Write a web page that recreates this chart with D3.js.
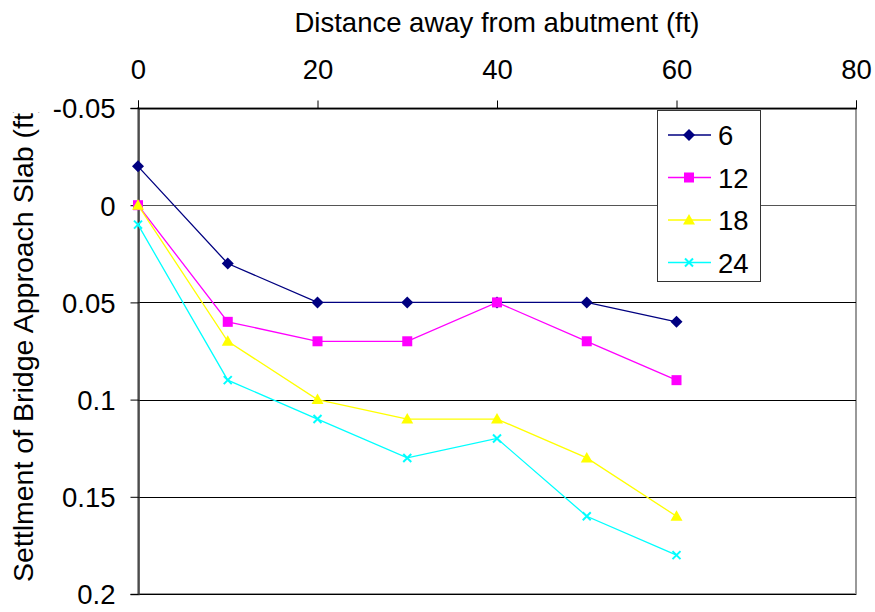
<!DOCTYPE html>
<html><head><meta charset="utf-8">
<script src="https://cdn.jsdelivr.net/npm/d3@7"></script>
<style>body{margin:0;background:#fff}svg{display:block}text{font-family:"Liberation Sans",Arial,sans-serif}</style>
</head><body>
<svg id="c" width="875" height="612"></svg>
<script>
const xValues = [0, 10, 20, 30, 40, 50, 60];
const seriesNames = ["6", "12", "18", "24"];
const s6 = [-0.02, 0.03, 0.05, 0.05, 0.05, 0.05, 0.06];
const s12 = [0, 0.06, 0.07, 0.07, 0.05, 0.07, 0.09];
const s18 = [0, 0.07, 0.10, 0.11, 0.11, 0.13, 0.16];
const s24 = [0.01, 0.09, 0.11, 0.13, 0.12, 0.16, 0.18];
const xTicks = [0, 20, 40, 60, 80];
const yTicks = [-0.05, 0, 0.05, 0.1, 0.15, 0.2];
const colors = ["#000080", "#FF00FF", "#FFFF00", "#00FFFF"];
const seriesVals = [s6, s12, s18, s24];

const svg = d3.select("#c");
const L = 138, R = 856, T = 108, B = 594;
const FS = 27.5;
const x = d3.scaleLinear().domain([0, 80]).range([L, R]);
const y = d3.scaleLinear().domain([-0.05, 0.2]).range([T, B]);

svg.append("defs").append("clipPath").attr("id", "ytclip")
  .append("rect").attr("x", 0).attr("y", 112).attr("width", 60).attr("height", 500);

svg.append("rect").attr("x", L).attr("y", T).attr("width", R - L).attr("height", B - T)
  .attr("fill", "none").attr("stroke", "#999").attr("stroke-width", 2);

svg.append("g").selectAll("line").data(yTicks).join("line")
  .attr("x1", L).attr("x2", R).attr("y1", d => Math.round(y(d)) + 0.5).attr("y2", d => Math.round(y(d)) + 0.5)
  .attr("stroke", d => d === 0 ? "#555" : "#000").attr("stroke-width", 1);

const yAxis = d3.axisLeft(y).tickValues(yTicks).tickSize(8).tickPadding(15)
  .tickFormat(d => d === 0 ? "0" : String(+d.toFixed(2)));
const gy = svg.append("g").attr("transform", `translate(${L + 0.5},0)`).call(yAxis);
gy.select(".domain").attr("stroke", "#333").attr("stroke-width", 1.5);
gy.selectAll("line").attr("stroke", "#000");
gy.selectAll("text").attr("font-size", FS).attr("fill", "#000").attr("dy", "0.36em");

const xAxis = d3.axisTop(x).tickValues(xTicks).tickSize(8).tickPadding(22).tickFormat(d3.format("d"));
const gx = svg.append("g").attr("transform", `translate(0,${T + 0.5})`).call(xAxis);
gx.select(".domain").attr("stroke", "#000");
gx.selectAll("line").attr("stroke", "#000");
gx.selectAll("text").attr("font-size", FS).attr("fill", "#000").attr("dy", "0");

svg.append("text").attr("x", 497).attr("y", 32).attr("text-anchor", "middle")
  .attr("font-size", FS).text("Distance away from abutment (ft)");
svg.append("g").attr("clip-path", "url(#ytclip)").append("text")
  .attr("transform", "translate(33,582) rotate(-90)").attr("text-anchor", "start")
  .attr("font-size", 28.5).text("Settlment of Bridge Approach Slab (ft)");

const line = d3.line().x((d, i) => x(xValues[i])).y(d => y(d));
function marker(g, k, c) {
  if (k === 0) g.append("path").attr("d", "M0,-6L6,0L0,6L-6,0Z").attr("fill", c);
  else if (k === 1) g.append("rect").attr("x", -5).attr("y", -5).attr("width", 10).attr("height", 10).attr("fill", c);
  else if (k === 2) g.append("path").attr("d", "M0,-6L6,4.5L-6,4.5Z").attr("fill", c);
  else g.append("path").attr("d", "M-4,-4L4,4M-4,4L4,-4").attr("stroke", c).attr("stroke-width", 2);
}
seriesVals.forEach((vals, k) => {
  svg.append("path").datum(vals).attr("d", line).attr("fill", "none")
    .attr("stroke", colors[k]).attr("stroke-width", 1.3);
  vals.forEach((v, i) => {
    const g = svg.append("g").attr("transform", `translate(${x(xValues[i])},${y(v)})`);
    marker(g, k, colors[k]);
  });
});

const lg = svg.append("g");
lg.append("rect").attr("x", 657.5).attr("y", 110.5).attr("width", 103).attr("height", 171)
  .attr("fill", "#fff").attr("stroke", "#333").attr("stroke-width", 1);
seriesNames.forEach((n, k) => {
  const yy = 135 + k * 42.5;
  lg.append("line").attr("x1", 668).attr("x2", 711).attr("y1", yy).attr("y2", yy)
    .attr("stroke", colors[k]).attr("stroke-width", 1.3);
  const g = lg.append("g").attr("transform", `translate(689,${yy})`);
  marker(g, k, colors[k]);
  lg.append("text").attr("x", 718).attr("y", yy + 10).attr("font-size", FS).text(n);
});
</script>
</body></html>
